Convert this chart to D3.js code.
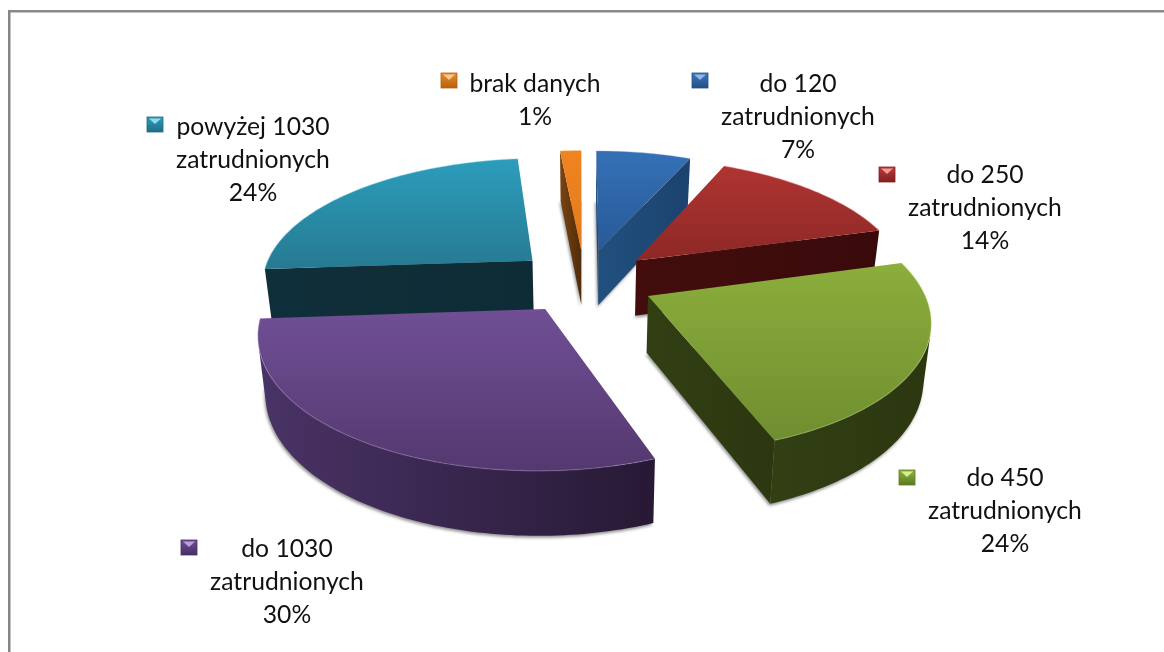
<!DOCTYPE html>
<html><head><meta charset="utf-8">
<script src="https://cdn.jsdelivr.net/npm/d3@7/dist/d3.min.js"></script>
<style>html,body{margin:0;padding:0;background:#fff}svg{display:block}text{font-family:Lato,sans-serif;fill:#111}</style>
</head><body><div id="c"></div>
<script>
const categories = ["brak danych","do 120 zatrudnionych","do 250 zatrudnionych","do 450 zatrudnionych","do 1030 zatrudnionych","powyżej 1030 zatrudnionych"];
const values = [1.5, 6.7, 14, 23.5, 29.5, 24.49];
const percentLabels = ["1%","7%","14%","24%","30%","24%"];
const labelLines = [["brak danych"],["do 120","zatrudnionych"],["do 250","zatrudnionych"],["do 450","zatrudnionych"],["do 1030","zatrudnionych"],["powyżej 1030","zatrudnionych"]];
const labelLayout = [
  {cx:535,y:91.5,mx:441,my:73},{cx:798,y:91.5,mx:692,my:73},{cx:985,y:182.5,mx:879,my:167},
  {cx:1005,y:485.5,mx:899,my:470},{cx:287,y:556.5,mx:181,my:540},{cx:253,y:134.5,mx:147,my:117}];
const palette = [
  {top:["#ef8420","#e37a1c"],wall:["#7a4412","#4f2c0a"],mark:["#e98a2c","#b5620f","#fbc98f"]},
  {top:["#3570b6","#285a97"],wall:["#21507f","#1c426e"],mark:["#3c78bd","#254f85","#8fb8e8"]},
  {top:["#af3431","#8d2826"],wall:["#430d0d","#3a0a0a"],mark:["#b93c39","#82201e","#f29a98"]},
  {top:["#8bae3c","#6f8e30"],wall:["#323f13","#2c3710"],mark:["#8fb340","#5c7a22","#d5f08e"]},
  {top:["#704f95","#54386f"],wall:["#4a3366","#271935"],mark:["#6f4f94","#472e66","#b9a0d8"]},
  {top:["#2c9dbc","#267a91"],wall:["#0f2f3a","#0e2c36"],mark:["#2f9cba","#1f6d84","#8fdcf0"]}];

const W=1164,H=652,cx=584.5,cy=281,R=272,ex=70,p=0.0006,a=0.46;
const svg=d3.select("#c").append("svg").attr("width",W).attr("height",H);
const defs=svg.append("defs");
defs.append("filter").attr("id","soft").attr("x","-30%").attr("y","-30%").attr("width","160%").attr("height","160%")
  .append("feGaussianBlur").attr("stdDeviation",1.8);
svg.append("rect").attr("x",8).attr("y",10).attr("width",W-8).attr("height",2.5).attr("fill","#8a8a8a");
svg.append("rect").attr("x",8).attr("y",10).attr("width",2.5).attr("height",H-10).attr("fill","#858585");

const pie=d3.pie().sort(null).startAngle(-5.5*Math.PI/180).endAngle(354.5*Math.PI/180);
const arcs=pie(values);
const line=d3.line().x(d=>d[0]).y(d=>d[1]);
function proj(X,Z,bottom){
  const k=1/(1-Z*p);
  return bottom?[cx+X*k*0.977,cy+a*Z*k+20+36*k]:[cx+X*k,cy+a*Z*k];
}
function grad(id,c,horizontal){
  const g=defs.append("linearGradient").attr("id",id).attr("x1",0).attr("y1",0).attr("x2",horizontal?1:0).attr("y2",horizontal?0:1);
  g.append("stop").attr("offset","0%").attr("stop-color",c[0]);
  g.append("stop").attr("offset","100%").attr("stop-color",c[1]);
}
const cross=(a,b,c)=>(b[0]-a[0])*(c[1]-a[1])-(b[1]-a[1])*(c[0]-a[0]);

const slices=arcs.map((d,i)=>{
  const mid=(d.startAngle+d.endAngle)/2, ox=ex*Math.sin(mid), oz=-ex*Math.cos(mid);
  const n=Math.max(4,Math.ceil((d.endAngle-d.startAngle)/0.02));
  const th=d3.range(n+1).map(j=>d.startAngle+(d.endAngle-d.startAngle)*j/n);
  const rim=b=>th.map(t=>proj(ox+R*Math.sin(t),oz-R*Math.cos(t),b));
  return {i,top:rim(false),bot:rim(true),apexT:proj(ox,oz,false),apexB:proj(ox,oz,true)};
});
const gShadow=svg.append("g").attr("filter","url(#soft)");
slices.forEach(s=>gShadow.append("path").attr("d",line([s.apexB,...s.bot])+"Z").attr("fill","#6e6e6e").attr("opacity",.75).attr("transform","translate(-1,2)"));

// painter's order: far slices first
[0,1,5,2,4,3].forEach(i=>{
  const s=slices[i],c=palette[i],g=svg.append("g");
  grad("t"+i,c.top,false);grad("w"+i,c.wall,true);
  const N=s.top.length-1;
  const wall=(A,B,C,D)=>{ g.append("path").attr("d",line([A,B,C,D])+"Z").attr("fill","url(#w"+i+")"); };
  if(cross(s.apexT,s.top[0],s.bot[0])<0) wall(s.apexT,s.top[0],s.bot[0],s.apexB);
  if(cross(s.top[N],s.apexT,s.apexB)<0) wall(s.top[N],s.apexT,s.apexB,s.bot[N]);
  let run=[];
  const flush=()=>{ if(run.length){ const a=run.map(j=>s.top[j]),b=run.map(j=>s.bot[j]).reverse();
    g.append("path").attr("d",line([...a,...b])+"Z").attr("fill","url(#w"+i+")"); run=[]; } };
  for(let j=0;j<N;j++){
    if(cross(s.top[j],s.top[j+1],s.bot[j+1])<0){ if(!run.length) run.push(j); run.push(j+1);} else flush();
  }
  flush();
  g.append("path").attr("d",line([s.apexT,...s.top])+"Z").attr("fill","url(#t"+i+")");
  g.append("path").attr("d",line(s.top)).attr("fill","none").attr("stroke",c.mark[2]).attr("stroke-opacity",.35).attr("stroke-width",1.2);
});

labelLayout.forEach((l,i)=>{
  const lines=[...labelLines[i],percentLabels[i]];
  const t=svg.append("text").attr("text-anchor","middle").attr("font-size",24.7);
  lines.forEach((s,j)=>t.append("tspan").attr("x",l.cx).attr("y",l.y+j*33).text(s));
  const c=palette[i].mark;
  grad("m"+i,[c[0],c[1]],false);
  const x=l.mx,y=l.my;
  svg.append("rect").attr("x",x).attr("y",y).attr("width",16).attr("height",15).attr("fill","url(#m"+i+")").attr("stroke",c[1]).attr("stroke-width",.8);
  svg.append("path").attr("d",line([[x+2,y+1.5],[x+14,y+1.5],[x+8,y+7]])+"Z").attr("fill",c[2]);
});
</script></body></html>
